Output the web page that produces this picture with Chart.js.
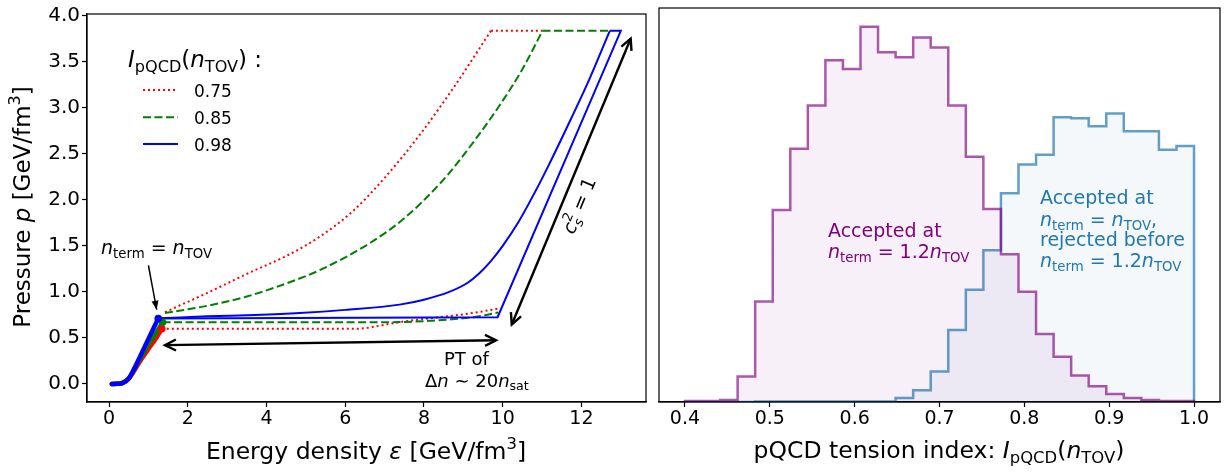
<!DOCTYPE html>
<html>
<head>
<meta charset="utf-8">
<script src="https://cdn.jsdelivr.net/npm/chart.js@4.4.0/dist/chart.umd.min.js"></script>
<style>
  html, body { margin: 0; padding: 0; background: #fff; }
  #wrap { position: relative; width: 1225px; height: 472px; }
  canvas { position: absolute; top: 0; }
  #eosChart { left: 0; }
  #tensionChart { left: 650px; }
</style>
</head>
<body>
<div id="wrap">
  <canvas id="eosChart" width="650" height="472"></canvas>
  <canvas id="tensionChart" width="575" height="472"></canvas>
</div>
<script>
// --- left panel: EoS envelopes, energy density eps vs pressure p [GeV/fm^3] ---
const epsTicks = [0, 2, 4, 6, 8, 10, 12];
const pTicks = [0, 0.5, 1, 1.5, 2, 2.5, 3, 3.5, 4];
const tensionLabels = ["0.75", "0.85", "0.98"];
const pMax = 3.837;

// low-density (crust / cEFT) part, up to n_term = n_TOV
const redCrustEps = [0.07, 0.2, 0.35, 0.5, 0.62, 0.8, 1.0, 1.2, 1.34];
const redCrustP = [0, 0.002, 0.012, 0.055, 0.13, 0.255, 0.38, 0.5, 0.6];
const greenCrustEps = [0.07, 0.2, 0.35, 0.5, 0.62, 0.8, 1.0, 1.2, 1.36];
const greenCrustP = [0, 0.002, 0.012, 0.058, 0.14, 0.28, 0.43, 0.56, 0.67];
const blueCrustEps = [0.07, 0.2, 0.35, 0.5, 0.62, 0.8, 1.0, 1.25];
const blueCrustP = [0, 0.002, 0.012, 0.06, 0.15, 0.31, 0.49, 0.711];

// upper envelopes
const redUpperEps = [1.42, 2.5, 3.57, 4.5, 5.35, 6.2, 7.0, 7.88, 8.8, 9.7];
const redUpperP = [0.78, 0.99, 1.21, 1.39, 1.6, 1.88, 2.24, 2.7, 3.25, 3.837];
const greenUpperEps = [1.42, 2.5, 3.5, 4.84, 5.35, 6.66, 7.5, 8.39, 8.81, 9.91, 10.5, 11.01];
const greenUpperP = [0.77, 0.85, 0.95, 1.146, 1.236, 1.54, 1.8, 2.17, 2.38, 3.02, 3.42, 3.837];
const blueUpperEps = [1.25, 2.5, 3.7, 4.84, 6.0, 7.38, 8.0, 8.64, 9.11, 9.4, 9.7, 10.0, 10.4, 10.9, 11.16, 11.6, 12.2, 12.72];
const blueUpperP = [0.713, 0.735, 0.75, 0.771, 0.805, 0.862, 0.915, 1.0, 1.1, 1.2, 1.335, 1.5, 1.76, 2.15, 2.37, 2.76, 3.31, 3.837];

// lower envelopes (phase transition plateau)
const redLowerEps = [1.34, 3.0, 5.0, 6.3, 6.9, 7.38, 8.22, 9.07, 9.89];
const redLowerP = [0.6, 0.6, 0.6, 0.6, 0.635, 0.672, 0.717, 0.76, 0.818];
const greenLowerEps = [1.36, 4.0, 7.0, 7.7, 8.22, 8.64, 9.4, 9.89];
const greenLowerP = [0.67, 0.67, 0.67, 0.676, 0.688, 0.7, 0.735, 0.778];
// blue plateau, then c_s^2 = 1 up to p max, then back along the top
const blueLowerEps = [1.25, 9.87, 13.0, 12.72];
const blueLowerP = [0.711, 0.725, 3.837, 3.837];

// flat tops at p max
const redTopEps = [9.7, 11.01];
const greenTopEps = [11.01, 12.72];

// termination points n_term = n_TOV
const tovEps = [1.34, 1.36, 1.25];
const tovP = [0.6, 0.67, 0.711];

// --- right panel: histograms of I_pQCD(n_TOV), 29 bins on [0.4, 1.0] ---
const binStart = 0.4;
const binEnd = 1.0;
const tensionTicks = [0.4, 0.5, 0.6, 0.7, 0.8, 0.9, 1.0];
const acceptedAt12 = [0.01, 0.01, 0.02, 0.26, 1.02, 1.95, 2.57, 3.01, 3.47, 3.38, 3.81, 3.55, 3.5, 3.7, 3.6,
  3.01, 2.49, 1.96, 1.5, 1.12, 0.69, 0.46, 0.27, 0.16, 0.08, 0.04, 0.02, 0.01, 0.01];
const acceptedAtTov = [0, 0, 0, 0, 0.005, 0.005, 0.005, 0.005, 0.005, 0.005, 0.005, 0.005, 0.04, 0.12, 0.31,
  0.73, 1.14, 1.54, 2.12, 2.41, 2.51, 2.89, 2.88, 2.8, 2.93, 2.75, 2.75, 2.56, 2.6];

const RED = "#ff0000";
const GREEN = "#008000";
const BLUE = "#0000ff";
const PURPLE = "#800080";
const TABBLUE = "#1f77b4";
const FAMILY = '"DejaVu Sans"';

Chart.defaults.font.family = FAMILY;
Chart.defaults.font.size = 16;
Chart.defaults.color = "#000";

function pts(xs, ys) {
  return xs.map((x, i) => ({ x, y: ys[i] }));
}

function flat(xs, y) {
  return xs.map((x) => ({ x, y }));
}

function line(data, color, extra) {
  return Object.assign({
    data,
    showLine: true,
    borderColor: color,
    backgroundColor: color,
    borderWidth: 2,
    pointRadius: 0,
    tension: 0,
    fill: false,
  }, extra);
}

function stepPoints(vals) {
  const w = (binEnd - binStart) / vals.length;
  const out = [{ x: binStart, y: 0 }];
  vals.forEach((v, i) => out.push({ x: binStart + i * w, y: v }));
  out.push({ x: binEnd, y: vals[vals.length - 1] });
  out.push({ x: binEnd, y: 0 });
  return out;
}

// text with italic / sub / superscript pieces, roughly like mathtext
// style: "i" italic, "_" sub, "^" sup, "k" stack on previous piece
function drawRich(ctx, parts, x, y, size, opts = {}) {
  const { align = "left", angle = 0, color = "#000" } = opts;
  const laid = [];
  let w = 0;
  let prev = 0;
  for (const [t, st = ""] of parts) {
    const small = st.includes("_") || st.includes("^");
    const font = `${st.includes("i") ? "italic " : ""}${small ? size * 0.7 : size}px ${FAMILY}`;
    ctx.font = font;
    const tw = ctx.measureText(t).width;
    const dy = st.includes("_") ? size * 0.22 : st.includes("^") ? -size * 0.42 : 0;
    if (st.includes("k")) {
      laid.push({ t, font, x: prev, dy });
      w = Math.max(w, prev + tw);
    } else {
      laid.push({ t, font, x: w, dy });
      prev = w;
      w += tw;
    }
  }
  ctx.save();
  ctx.translate(x, y);
  ctx.rotate(angle);
  const x0 = align === "center" ? -w / 2 : align === "right" ? -w : 0;
  ctx.fillStyle = color;
  ctx.textAlign = "left";
  ctx.textBaseline = "alphabetic";
  for (const p of laid) {
    ctx.font = p.font;
    ctx.fillText(p.t, x0 + p.x, p.dy);
  }
  ctx.restore();
}

function arrow(ctx, x1, y1, x2, y2, opts = {}) {
  const { start = false, end = true, filled = false, lw = 2.2, len = 10, half = 5 } = opts;
  ctx.save();
  ctx.strokeStyle = "#000";
  ctx.fillStyle = "#000";
  ctx.lineWidth = lw;
  ctx.lineJoin = "miter";
  ctx.beginPath();
  ctx.moveTo(x1, y1);
  ctx.lineTo(x2, y2);
  ctx.stroke();
  const head = (tx, ty, fx, fy) => {
    const a = Math.atan2(ty - fy, tx - fx);
    const bx = tx - len * Math.cos(a);
    const by = ty - len * Math.sin(a);
    const ox = half * Math.sin(a);
    const oy = -half * Math.cos(a);
    ctx.beginPath();
    ctx.moveTo(bx + ox, by + oy);
    ctx.lineTo(tx, ty);
    ctx.lineTo(bx - ox, by - oy);
    if (filled) {
      ctx.closePath();
      ctx.fill();
    } else {
      ctx.stroke();
    }
  };
  if (end) head(x2, y2, x1, y1);
  if (start) head(x1, y1, x2, y2);
  ctx.restore();
}

function frame(chart) {
  const { ctx, chartArea: a } = chart;
  ctx.save();
  ctx.strokeStyle = "#000";
  ctx.lineWidth = 1.2;
  ctx.strokeRect(a.left, a.top, a.right - a.left, a.bottom - a.top);
  ctx.restore();
}

const tickGrid = { display: true, drawOnChartArea: false, drawTicks: true, tickLength: 5, tickColor: "#000", tickWidth: 1.2 };
const axisBorder = { display: true, color: "#000", width: 1.2 };

const eosDecor = {
  id: "eosDecor",
  afterDraw(chart) {
    const { ctx } = chart;
    const sx = chart.scales.x;
    const sy = chart.scales.y;
    const X = (v) => sx.getPixelForValue(v);
    const Y = (v) => sy.getPixelForValue(v);
    frame(chart);

    // arrows
    arrow(ctx, X(1.0), Y(1.289), X(1.21), Y(0.807), { filled: true, lw: 1.5, len: 9, half: 3.5 });
    arrow(ctx, X(1.42), Y(0.422), X(9.83), Y(0.475), { start: true, lw: 2.4, len: 11, half: 5.5 });
    arrow(ctx, X(10.23), Y(0.647), X(13.25), Y(3.752), { start: true, lw: 2.4, len: 11, half: 5.5 });

    // annotations
    drawRich(ctx, [["n", "i"], ["term", "_"], [" = "], ["n", "i"], ["TOV", "_"]], 101, 253.5, 19);
    drawRich(ctx, [["PT of"]], 444, 365, 18);
    drawRich(ctx, [["Δ"], ["n", "i"], [" ∼ 20"], ["n", "i"], ["sat", "_"]], 425, 386.5, 18);
    const ang = Math.atan2(Y(3.752) - Y(0.647), X(13.25) - X(10.23));
    drawRich(ctx, [["c", "i"], ["s", "_i"], ["2", "^k"], [" = 1"]], 585, 208, 19, { align: "center", angle: ang });

    // legend
    drawRich(ctx, [["I", "i"], ["pQCD", "_"], ["("], ["n", "i"], ["TOV", "_"], [")"], [" :"]], 128, 66.5, 23);
    const styles = [[RED, [2, 3]], [GREEN, [8, 3.5]], [BLUE, []]];
    const rows = [90, 117.3, 144];
    styles.forEach(([c, dash], i) => {
      ctx.save();
      ctx.strokeStyle = c;
      ctx.lineWidth = 2;
      ctx.setLineDash(dash);
      ctx.beginPath();
      ctx.moveTo(143, rows[i]);
      ctx.lineTo(178, rows[i]);
      ctx.stroke();
      ctx.restore();
      drawRich(ctx, [[tensionLabels[i]]], 194, rows[i] + 7, 17);
    });

    // axis titles
    drawRich(ctx, [["Pressure "], ["p", "i"], [" [GeV/fm"], ["3", "^"], ["]"]], 30, 207, 23, { align: "center", angle: -Math.PI / 2 });
    drawRich(ctx, [["Energy density "], ["ε", "i"], [" [GeV/fm"], ["3", "^"], ["]"]], 366, 459, 23.5, { align: "center" });
  },
};

const dotted = { borderDash: [2, 3] };
const dashed = { borderDash: [8, 3.5] };
const smooth = { cubicInterpolationMode: "monotone" };
const thick = { borderWidth: 4.5, borderCapStyle: "round", cubicInterpolationMode: "monotone" };

new Chart(document.getElementById("eosChart"), {
  type: "scatter",
  data: {
    datasets: [
      line(pts(redUpperEps, redUpperP), RED, { ...dotted, ...smooth, order: 9 }),
      line(flat(redTopEps, pMax), RED, { ...dotted, order: 9 }),
      line(pts(redLowerEps, redLowerP), RED, { ...dotted, ...smooth, order: 9 }),
      line(pts(greenUpperEps, greenUpperP), GREEN, { ...dashed, ...smooth, order: 8 }),
      line(flat(greenTopEps, pMax), GREEN, { ...dashed, order: 8 }),
      line(pts(greenLowerEps, greenLowerP), GREEN, { ...dashed, ...smooth, order: 8 }),
      line(pts(blueUpperEps, blueUpperP), BLUE, { ...smooth, order: 7 }),
      line(pts(blueLowerEps, blueLowerP), BLUE, { order: 7 }),
      line(pts(redCrustEps, redCrustP), RED, { ...thick, order: 6 }),
      line(pts(greenCrustEps, greenCrustP), GREEN, { ...thick, order: 5 }),
      line(pts(blueCrustEps, blueCrustP), BLUE, { ...thick, order: 4 }),
      {
        data: pts(tovEps, tovP),
        showLine: false,
        pointRadius: 3.8,
        pointBorderWidth: 0,
        pointBackgroundColor: [RED, GREEN, BLUE],
        order: 1,
      },
    ],
  },
  options: {
    responsive: false,
    animation: false,
    devicePixelRatio: 1,
    layout: { padding: { left: 0, right: 3, top: 8, bottom: 0 } },
    plugins: { legend: { display: false }, tooltip: { enabled: false } },
    scales: {
      x: {
        type: "linear",
        min: -0.56,
        max: 13.64,
        afterBuildTicks: (s) => { s.ticks = epsTicks.map((value) => ({ value })); },
        afterFit: (s) => { s.height = 70; },
        grid: tickGrid,
        border: axisBorder,
        ticks: { font: { size: 19 }, color: "#000", padding: 1, maxRotation: 0, callback: (v) => String(v) },
      },
      y: {
        type: "linear",
        min: -0.196,
        max: 4.02,
        afterBuildTicks: (s) => { s.ticks = pTicks.map((value) => ({ value })); },
        afterFit: (s) => { s.width = 87; },
        grid: tickGrid,
        border: axisBorder,
        ticks: { font: { size: 20 }, color: "#000", padding: 2, callback: (v) => Number(v).toFixed(1) },
      },
    },
  },
  plugins: [eosDecor],
});

// --- right panel ---
const OFFSET = 650;

const tensionDecor = {
  id: "tensionDecor",
  afterDraw(chart) {
    const { ctx } = chart;
    frame(chart);
    ctx.save();
    ctx.translate(-OFFSET, 0);
    drawRich(ctx, [["Accepted at"]], 828, 236.5, 19, { color: PURPLE });
    drawRich(ctx, [["n", "i"], ["term", "_"], [" = 1.2"], ["n", "i"], ["TOV", "_"]], 828, 258, 19, { color: PURPLE });
    drawRich(ctx, [["Accepted at"]], 1040, 204, 19, { color: TABBLUE });
    drawRich(ctx, [["n", "i"], ["term", "_"], [" = "], ["n", "i"], ["TOV", "_"], [","]], 1040, 225.5, 19, { color: TABBLUE });
    drawRich(ctx, [["rejected before"]], 1040, 245.5, 19, { color: TABBLUE });
    drawRich(ctx, [["n", "i"], ["term", "_"], [" = 1.2"], ["n", "i"], ["TOV", "_"]], 1040, 267, 19, { color: TABBLUE });
    drawRich(ctx, [["pQCD tension index: "], ["I", "i"], ["pQCD", "_"], ["("], ["n", "i"], ["TOV", "_"], [")"]], 939, 458, 23.5, { align: "center" });
    ctx.restore();
  },
};

new Chart(document.getElementById("tensionChart"), {
  type: "scatter",
  data: {
    datasets: [
      {
        data: stepPoints(acceptedAt12),
        showLine: true,
        stepped: true,
        pointRadius: 0,
        borderWidth: 2.5,
        borderColor: "rgba(128,0,128,0.65)",
        backgroundColor: "rgba(128,0,128,0.06)",
        fill: "origin",
        order: 1,
      },
      {
        data: stepPoints(acceptedAtTov),
        showLine: true,
        stepped: true,
        pointRadius: 0,
        borderWidth: 2.5,
        borderColor: "rgba(31,119,180,0.7)",
        backgroundColor: "rgba(31,119,180,0.05)",
        fill: "origin",
        order: 2,
      },
    ],
  },
  options: {
    responsive: false,
    animation: false,
    devicePixelRatio: 1,
    layout: { padding: { left: 9, right: 5, top: 8, bottom: 0 } },
    plugins: { legend: { display: false }, tooltip: { enabled: false } },
    scales: {
      x: {
        type: "linear",
        min: 0.3694,
        max: 1.0306,
        afterBuildTicks: (s) => { s.ticks = tensionTicks.map((value) => ({ value })); },
        afterFit: (s) => { s.height = 70; },
        grid: tickGrid,
        border: axisBorder,
        ticks: { font: { size: 19 }, color: "#000", padding: 1, maxRotation: 0, callback: (v) => Number(v).toFixed(1) },
      },
      y: { type: "linear", min: 0, max: 4.0, display: false },
    },
  },
  plugins: [tensionDecor],
});
</script>
</body>
</html>
